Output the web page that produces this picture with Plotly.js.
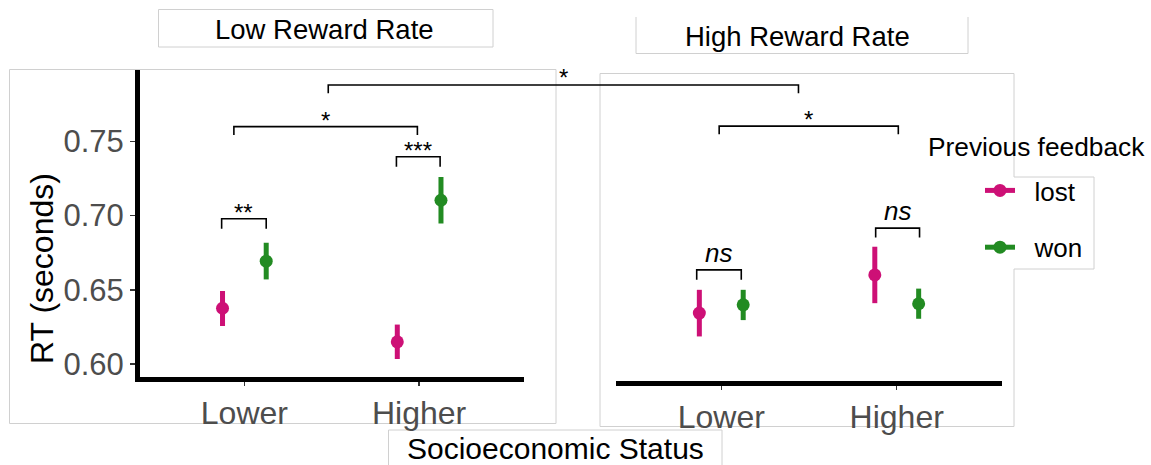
<!DOCTYPE html>
<html>
<head>
<meta charset="utf-8">
<script src="https://cdn.plot.ly/plotly-3.0.1.min.js"></script>
<style>
  html, body { margin: 0; padding: 0; background: #ffffff; }
  #chart { width: 1151px; height: 465px; }
</style>
</head>
<body>
<div id="chart"></div>
<script>
// Socioeconomic status levels on the x axis
const sesLevels = ['Lower', 'Higher'];

// Mean RT (seconds) with interval bounds, Low Reward Rate block
const lowLostMean = [0.6376, 0.6150];
const lowLostUpper = [0.6492, 0.6266];
const lowLostLower = [0.6257, 0.6034];
const lowWonMean = [0.6693, 0.7103];
const lowWonUpper = [0.6817, 0.7260];
const lowWonLower = [0.6570, 0.6946];

// Mean RT (seconds) with interval bounds, High Reward Rate block
const highLostMean = [0.6370, 0.6627];
const highLostUpper = [0.6527, 0.6817];
const highLostLower = [0.6213, 0.6437];
const highWonMean = [0.6426, 0.6433];
const highWonUpper = [0.6527, 0.6535];
const highWonLower = [0.6323, 0.6332];

// Significance brackets (x in category units, y in seconds)
const lowBracketX0 = [-0.13, 0.87, -0.06];
const lowBracketX1 = [0.125, 1.12, 0.99];
const lowBracketY = [0.6978, 0.7396, 0.7599];
const lowBracketEnd = [0.6911, 0.7329, 0.7543];
const lowBracketLabel = ['**', '***', '*'];

const highBracketX0 = [-0.14, 0.88, -0.012];
const highBracketX1 = [0.114, 1.13, 1.009];
const highBracketY = [0.6661, 0.6942, 0.7629];
const highBracketEnd = [0.6594, 0.6879, 0.7574];
const highBracketLabel = ['<i>ns</i>', '<i>ns</i>', '*'];

// Bracket comparing the two reward-rate blocks
const crossBracketX = [0.48, 0.44];
const crossBracketY = 0.7879;
const crossBracketEnd = 0.7823;
const crossBracketLabel = '*';

const feedbackNames = ['lost', 'won'];
const feedbackColors = ['#CD1076', '#228B22'];

// ---------------------------------------------------------------
const W = 1151, H = 465;
const px = x => x / W;
const py = y => 1 - y / H;
const FONT = 'Liberation Sans, Arial, Helvetica, sans-serif';

const dodge = 0.125;
const yRange = [0.5913, 0.798];
const xRange = [-0.6, 1.6];

const xDomL = [px(139.5), px(524)];
const yDomL = [py(377), py(70)];
const xDomR = [px(616), px(1002)];
const yDomR = [py(381), py(381 - 307)];

function pointTrace(idx, mean, upper, lower, xa, ya, sign) {
  return {
    type: 'scatter', mode: 'markers',
    x: mean.map((_, i) => i + sign * dodge),
    y: mean,
    xaxis: xa, yaxis: ya,
    marker: { color: feedbackColors[idx], size: 13 },
    error_y: {
      type: 'data', symmetric: false,
      array: upper.map((u, i) => u - mean[i]),
      arrayminus: lower.map((l, i) => mean[i] - l),
      color: feedbackColors[idx], thickness: 5, width: 0
    },
    showlegend: false, hoverinfo: 'skip'
  };
}

const traces = [
  pointTrace(0, lowLostMean, lowLostUpper, lowLostLower, 'x', 'y', -1),
  pointTrace(1, lowWonMean, lowWonUpper, lowWonLower, 'x', 'y', 1),
  pointTrace(0, highLostMean, highLostUpper, highLostLower, 'x2', 'y2', -1),
  pointTrace(1, highWonMean, highWonUpper, highWonLower, 'x2', 'y2', 1)
];

// Legend entries
feedbackNames.forEach((name, i) => {
  traces.push({
    type: 'scatter', mode: 'lines+markers',
    x: [null], y: [null],
    name: '\u00a0\u00a0' + name,
    legendgroup: name,
    line: { color: feedbackColors[i], width: 5 },
    marker: { color: feedbackColors[i], size: 13 },
    showlegend: true, hoverinfo: 'skip'
  });
});

const shapes = [];
const annotations = [];

function addBrackets(x0s, x1s, ys, ends, labels, xref, yref) {
  x0s.forEach((x0, i) => {
    const x1 = x1s[i];
    shapes.push({
      type: 'path', xref: xref, yref: yref,
      path: `M${x0},${ends[i]} L${x0},${ys[i]} L${x1},${ys[i]} L${x1},${ends[i]}`,
      line: { color: '#000000', width: 1.6 }
    });
    const isNs = labels[i].indexOf('ns') >= 0;
    annotations.push({
      xref: xref, yref: yref, x: (x0 + x1) / 2, y: ys[i],
      text: labels[i], showarrow: false,
      xanchor: 'center', yanchor: 'bottom',
      yshift: isNs ? 0 : -9,
      font: { family: FONT, size: isNs ? 26 : 24, color: '#000000' }
    });
  });
}
addBrackets(lowBracketX0, lowBracketX1, lowBracketY, lowBracketEnd, lowBracketLabel, 'x', 'y');
addBrackets(highBracketX0, highBracketX1, highBracketY, highBracketEnd, highBracketLabel, 'x2', 'y2');

// Cross-block bracket, mapped to page coordinates through each panel's axes
function mapX(dom, v) { return dom[0] + (v - xRange[0]) / (xRange[1] - xRange[0]) * (dom[1] - dom[0]); }
function mapY(dom, v) { return dom[0] + (v - yRange[0]) / (yRange[1] - yRange[0]) * (dom[1] - dom[0]); }
{
  const xa = mapX(xDomL, crossBracketX[0]);
  const xb = mapX(xDomR, crossBracketX[1]);
  const yTop = mapY(yDomL, crossBracketY);
  const yEnd = mapY(yDomL, crossBracketEnd);
  shapes.push({
    type: 'path', xref: 'paper', yref: 'paper',
    path: `M${xa},${yEnd} L${xa},${yTop} L${xb},${yTop} L${xb},${yEnd}`,
    line: { color: '#000000', width: 1.6 }
  });
  annotations.push({
    xref: 'paper', yref: 'paper', x: (xa + xb) / 2, y: yTop,
    text: crossBracketLabel, showarrow: false, xanchor: 'center', yanchor: 'bottom',
    yshift: -8, font: { family: FONT, size: 24, color: '#000000' }
  });
}

// Light grey frames around panels, strip titles and the shared axis title
const frame = { color: '#d0d0d0', width: 1 };
function rectPath(pts) {
  return pts.map((p, i) => (i ? 'L' : 'M') + px(p[0]) + ',' + py(p[1])).join(' ');
}
shapes.push({ type: 'path', xref: 'paper', yref: 'paper', layer: 'below', line: frame,
  path: rectPath([[9.5, 69.5], [556, 69.5], [556, 423.5], [9.5, 423.5]]) + ' Z' });
shapes.push({ type: 'path', xref: 'paper', yref: 'paper', layer: 'below', line: frame,
  path: rectPath([[1014, 177], [1094, 177], [1094, 269], [1014, 269], [1014, 426.5],
                  [600, 426.5], [600, 73.5], [1014, 73.5], [1014, 177]]) });
shapes.push({ type: 'path', xref: 'paper', yref: 'paper', layer: 'below', line: frame,
  path: rectPath([[158.5, 9.5], [493, 9.5], [493, 47], [158.5, 47]]) + ' Z' });
shapes.push({ type: 'path', xref: 'paper', yref: 'paper', layer: 'below', line: frame,
  path: rectPath([[636, 17], [636, 53.5], [968, 53.5], [968, 17]]) });
shapes.push({ type: 'path', xref: 'paper', yref: 'paper', layer: 'below', line: frame,
  path: rectPath([[388.5, 470], [388.5, 430], [722, 430], [722, 470]]) });

annotations.push({
  xref: 'paper', yref: 'paper', x: px(324), y: py(29), text: 'Low Reward Rate',
  showarrow: false, xanchor: 'center', yanchor: 'middle',
  font: { family: FONT, size: 27.5, color: '#000000' }
});
annotations.push({
  xref: 'paper', yref: 'paper', x: px(797), y: py(36.5), text: 'High Reward Rate',
  showarrow: false, xanchor: 'center', yanchor: 'middle',
  font: { family: FONT, size: 27.5, color: '#000000' }
});
annotations.push({
  xref: 'paper', yref: 'paper', x: px(555), y: py(448), text: 'Socioeconomic Status',
  showarrow: false, xanchor: 'center', yanchor: 'middle',
  font: { family: FONT, size: 30, color: '#000000' }
});
annotations.push({
  xref: 'paper', yref: 'paper', x: px(926), y: py(147), text: 'Previous feedback',
  showarrow: false, xanchor: 'left', yanchor: 'middle',
  font: { family: FONT, size: 26.3, color: '#000000' }
});
// Y axis title, centred on the labelled part of the scale
annotations.push({
  xref: 'paper', yref: 'paper', x: px(42), y: py(269), text: 'RT (seconds)',
  showarrow: false, xanchor: 'center', yanchor: 'middle', textangle: -90,
  font: { family: FONT, size: 32, color: '#000000' }
});

const axisBase = {
  range: xRange, tickvals: [0, 1], ticktext: sesLevels,
  showline: true, linecolor: '#000000', linewidth: 4.5,
  ticks: 'outside', ticklen: 4, tickwidth: 1.5, tickcolor: '#333333',
  tickfont: { family: FONT, size: 32, color: '#4d4d4d' },
  showgrid: false, zeroline: false, fixedrange: true
};

const layout = {
  width: W, height: H,
  margin: { l: 0, r: 0, t: 0, b: 0, pad: 0 },
  paper_bgcolor: '#ffffff', plot_bgcolor: 'rgba(0,0,0,0)',
  font: { family: FONT },
  showlegend: true,
  legend: {
    x: px(980), y: py(167), xanchor: 'left', yanchor: 'top',
    bgcolor: 'rgba(0,0,0,0)', borderwidth: 0,
    font: { family: FONT, size: 26, color: '#000000' },
    traceorder: 'grouped', tracegroupgap: 20
  },
  xaxis: Object.assign({}, axisBase, { domain: xDomL, anchor: 'y' }),
  yaxis: {
    domain: yDomL, anchor: 'x', range: yRange,
    tickvals: [0.60, 0.65, 0.70, 0.75], tickformat: '.2f',
    showline: true, linecolor: '#000000', linewidth: 4.5,
    ticks: 'outside', ticklen: 5, tickwidth: 1.5, tickcolor: '#333333',
    tickfont: { family: FONT, size: 31, color: '#4d4d4d' },
    showgrid: false, zeroline: false, fixedrange: true
  },
  xaxis2: Object.assign({}, axisBase, { domain: xDomR, anchor: 'y2' }),
  yaxis2: {
    domain: yDomR, anchor: 'x2', range: yRange, visible: false, fixedrange: true
  },
  shapes: shapes,
  annotations: annotations
};

Plotly.newPlot('chart', traces, layout, { displayModeBar: false, staticPlot: true });
</script>
</body>
</html>
